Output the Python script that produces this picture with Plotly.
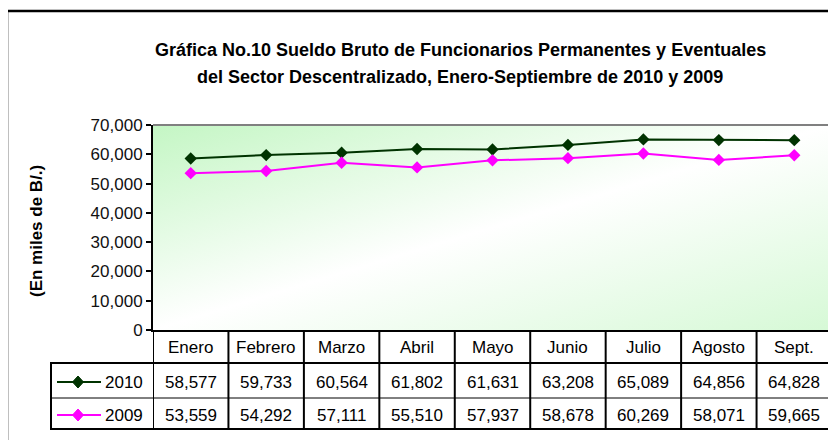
import plotly.graph_objects as go

months = ["Enero", "Febrero", "Marzo", "Abril", "Mayo", "Junio", "Julio", "Agosto", "Sept."]
values_2010 = [58577, 59733, 60564, 61802, 61631, 63208, 65089, 64856, 64828]
values_2009 = [53559, 54292, 57111, 55510, 57937, 58678, 60269, 58071, 59665]
series_names = ["2010", "2009"]
y_ticks = [0, 10000, 20000, 30000, 40000, 50000, 60000, 70000]
title_lines = ["Gráfica No.10 Sueldo Bruto de Funcionarios Permanentes y Eventuales",
               "del Sector Descentralizado, Enero-Septiembre de 2010 y 2009"]
y_title = "(En miles de B/.)"

# the page body has an 8px default margin; work in window pixels and subtract it
OFF = 8
W, H = 836 - OFF, 440 - OFF
ML, MR, MT, MB = 153 - OFF, 4, 125 - OFF, 110
PW, PH = W - ML - MR, H - MT - MB

def px_x(px):
    return (px - OFF - ML) / PW

def px_y(py):
    return (H - MB - (py - OFF)) / PH

FONT = "Arial, Liberation Sans, sans-serif"
C2010 = "#003300"
C2009 = "#FF00FF"
colors = [C2010, C2009]
xs = list(range(len(months)))

fig = go.Figure()
for name, vals, col in zip(series_names, [values_2010, values_2009], colors):
    fig.add_trace(go.Scatter(
        x=xs, y=vals, name=name, showlegend=False,
        mode="lines+markers", line=dict(color=col, width=2),
        marker=dict(symbol="diamond", size=9.5, color=col)))

svg = ("data:image/svg+xml;utf8,"
       "<svg xmlns='http://www.w3.org/2000/svg' width='100' height='100' preserveAspectRatio='none' viewBox='0 0 100 100'>"
       "<defs><linearGradient id='g' x1='0' y1='0' x2='1' y2='1'>"
       "<stop offset='0' stop-color='%23c4f6c4'/><stop offset='0.5' stop-color='%23ffffff'/>"
       "<stop offset='1' stop-color='%23d6f9d6'/></linearGradient></defs>"
       "<rect width='100' height='100' fill='url(%23g)'/></svg>")

shapes = []
# outer frame
shapes.append(dict(type="rect", xref="paper", yref="paper", x0=px_x(7), x1=px_x(850),
                   y0=px_y(455), y1=px_y(11), line=dict(color="black", width=2.5)))
# gray top/right plot border
shapes.append(dict(type="line", xref="paper", yref="paper", x0=0, x1=1, y0=1, y1=1,
                   line=dict(color="#808080", width=2)))
shapes.append(dict(type="line", xref="paper", yref="paper", x0=1, x1=1, y0=0, y1=1,
                   line=dict(color="#808080", width=2)))
# data table grid
r1, r2, r3 = px_y(363), px_y(398), px_y(429)
for k in range(len(months) + 1):
    shapes.append(dict(type="line", xref="x", yref="paper", x0=k - 0.5, x1=k - 0.5,
                       y0=0, y1=r3, line=dict(color="black", width=2)))
shapes.append(dict(type="line", xref="paper", yref="paper", x0=px_x(51), x1=px_x(51),
                   y0=r1, y1=r3, line=dict(color="black", width=2)))
for yy, w in [(r1, 2), (r2, 1), (r3, 2)]:
    shapes.append(dict(type="line", xref="paper", yref="paper", x0=px_x(50), x1=1,
                       y0=yy, y1=yy, line=dict(color="black", width=w)))

annotations = []
ymid = [px_y(347), px_y(382), px_y(415)]
tf = dict(family=FONT, size=17, color="black")
for i, m in enumerate(months):
    for row, txt in enumerate([m, f"{values_2010[i]:,}", f"{values_2009[i]:,}"]):
        annotations.append(dict(x=i, y=ymid[row], xref="x", yref="paper", text=txt, showarrow=False,
                                xanchor="center", yanchor="middle", font=tf))

# legend keys inside the table
for name, col, yy in zip(series_names, colors, ymid[1:]):
    shapes.append(dict(type="line", xref="paper", yref="paper", x0=px_x(57), x1=px_x(101),
                       y0=yy, y1=yy, line=dict(color=col, width=2)))
    shapes.append(dict(type="path", xref="paper", yref="paper", xsizemode="pixel", ysizemode="pixel",
                       xanchor=px_x(78), yanchor=yy, path="M0,6 L5.5,0 L0,-6 L-5.5,0 Z",
                       fillcolor=col, line=dict(color=col, width=1)))
    annotations.append(dict(x=px_x(145), y=yy, xref="paper", yref="paper", text=name,
                            xanchor="right", yanchor="middle", showarrow=False, font=tf))

annotations.append(dict(x=px_x(36), y=px_y(231), xref="paper", yref="paper", text=f"<b>{y_title}</b>",
                        textangle=-90, showarrow=False, xanchor="center", yanchor="middle",
                        font=dict(family=FONT, size=17, color="black")))
for line, py in zip(title_lines, [50, 77]):
    annotations.append(dict(x=px_x(460), y=px_y(py), xref="paper", yref="paper",
                            text=f"<b>{line}</b>", showarrow=False, xanchor="center", yanchor="middle",
                            font=dict(family=FONT, size=18, color="black")))

fig.update_layout(
    width=W, height=H, autosize=False,
    margin=dict(l=ML, r=MR, t=MT, b=MB),
    paper_bgcolor="white", plot_bgcolor="white",
    font=dict(family=FONT, size=17, color="black"),
    showlegend=False,
    xaxis=dict(range=[-0.5, len(months) - 0.5], showticklabels=False, showgrid=False, zeroline=False,
               showline=True, linecolor="black", linewidth=2, ticks=""),
    yaxis=dict(range=[0, 70000], tickvals=y_ticks, tickformat=",d", showgrid=False, zeroline=False,
               showline=True, linecolor="black", linewidth=2, ticks="outside", ticklen=5,
               tickwidth=2, tickcolor="black", tickfont=dict(family=FONT, size=17, color="#111")),
    images=[dict(source=svg, xref="paper", yref="paper", x=0, y=1, sizex=1, sizey=1,
                 sizing="stretch", layer="below")],
    shapes=shapes,
    annotations=annotations,
)

fig.write_html("out.html")
